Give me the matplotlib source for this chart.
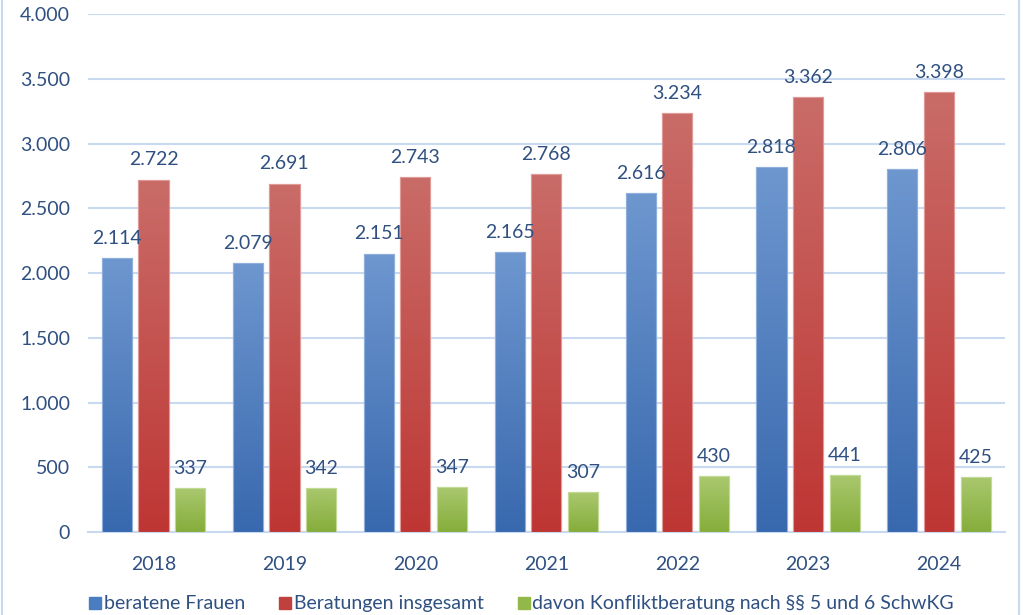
import matplotlib
matplotlib.use("Agg")
import matplotlib.pyplot as plt
import numpy as np
from matplotlib.colors import LinearSegmentedColormap
from matplotlib.patches import Rectangle
from matplotlib.lines import Line2D

years = ["2018", "2019", "2020", "2021", "2022", "2023", "2024"]
beratene_frauen = [2114, 2079, 2151, 2165, 2616, 2818, 2806]
beratungen_insgesamt = [2722, 2691, 2743, 2768, 3234, 3362, 3398]
konfliktberatung = [337, 342, 347, 307, 430, 441, 425]
series_names = ["beratene Frauen", "Beratungen insgesamt",
                "davon Konfliktberatung nach §§ 5 und 6 SchwKG"]
yticks = [0, 500, 1000, 1500, 2000, 2500, 3000, 3500, 4000]

plt.rcParams['font.family'] = ['Lato', 'DejaVu Sans']
txt_color = "#2F5080"
grid_color = "#C9DAF0"

series = [beratene_frauen, beratungen_insgesamt, konfliktberatung]
grads = [("#3868AE", "#6E97CF"), ("#BE3634", "#C96C68"), ("#85AD3A", "#AAC86F")]
solid = ["#4A7CC0", "#C0403E", "#93B84A"]
edges = ["#8FB0DC", "#E09A98", "#C3DA96"]

fig = plt.figure(figsize=(10.24, 6.15), dpi=100)
ax = fig.add_axes([0.086, 0.135, 0.895, 0.842])

x = np.arange(len(years))
width = 0.23
step = 0.28
ax.set_xlim(-0.5, len(years) - 0.5)
ax.set_ylim(0, 4000)

grad = np.linspace(0, 1, 256).reshape(-1, 1)
for i, (vals, (c0, c1)) in enumerate(zip(series, grads)):
    cmap = LinearSegmentedColormap.from_list(f"g{i}", [c0, c1])
    bars = ax.bar(x + (i - 1) * step, vals, width, color=solid[i],
                  edgecolor=edges[i], linewidth=0.8, zorder=3)
    for b in bars:
        bx, by = b.get_x(), b.get_y()
        bw, bh = b.get_width(), b.get_height()
        im = ax.imshow(grad, cmap=cmap, origin="lower", aspect="auto",
                       extent=[bx, bx + bw, by, by + bh], zorder=3.5,
                       interpolation="bilinear")
        clip = Rectangle((bx, by), bw, bh, transform=ax.transData)
        im.set_clip_path(clip)
        ax.add_patch(Rectangle((bx, by), bw, bh, fill=False,
                               edgecolor=edges[i], linewidth=0.8, zorder=3.6))
        ax.annotate(f"{int(bh):,}".replace(",", "."),
                    (bx + bw / 2, bh), xytext=(0, 8),
                    textcoords="offset points", ha="center", va="bottom",
                    fontsize=14, color=txt_color, zorder=5)

ax.set_xlim(-0.5, len(years) - 0.5)
ax.set_ylim(0, 4000)
ax.set_yticks(yticks)
ax.set_yticklabels([f"{v:,}".replace(",", ".") for v in yticks])
ax.set_xticks(x)
ax.set_xticklabels(years)
ax.tick_params(axis="y", length=0, pad=13, labelsize=14, labelcolor=txt_color)
ax.tick_params(axis="x", length=0, pad=17, labelsize=14, labelcolor=txt_color)
ax.grid(axis="y", color=grid_color, linewidth=1.5, zorder=0)
ax.set_axisbelow(True)
for s in ["top", "right", "left"]:
    ax.spines[s].set_visible(False)
ax.spines["bottom"].set_color(grid_color)
ax.spines["bottom"].set_linewidth(1.5)

handles = [Line2D([0], [0], marker="s", linestyle="", markersize=9,
                  markerfacecolor=solid[i], markeredgecolor=solid[i])
           for i in range(3)]
leg = fig.legend(handles, series_names, loc="center left",
                 bbox_to_anchor=(0.077, 0.018), ncol=3, frameon=False,
                 fontsize=14, handletextpad=0.0, columnspacing=1.6,
                 handlelength=0.9, borderaxespad=0)
for t in leg.get_texts():
    t.set_color(txt_color)

fig.add_artist(Line2D([0.002, 0.002], [0, 1], color=grid_color, linewidth=1.5,
                      transform=fig.transFigure))
fig.add_artist(Line2D([0.995, 0.995], [0, 1], color=grid_color, linewidth=1.5,
                      transform=fig.transFigure))

fig.savefig("out.png", dpi=100)
